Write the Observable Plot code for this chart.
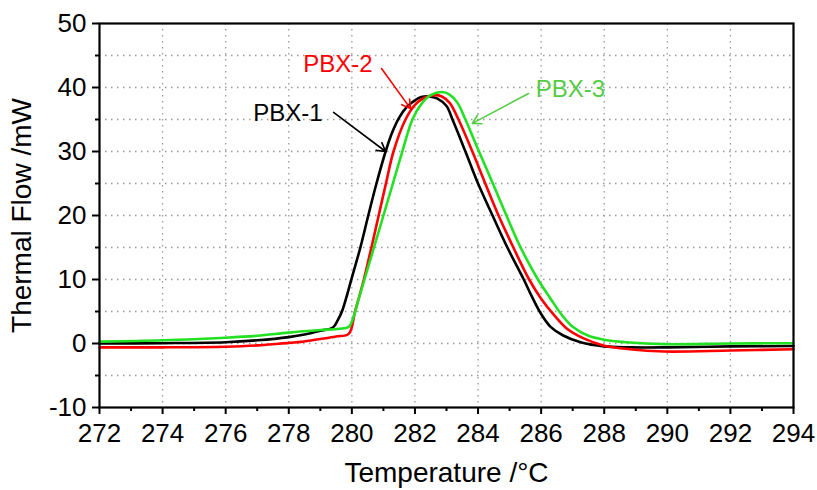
<!DOCTYPE html>
<html><head><meta charset="utf-8">
<script src="https://cdn.jsdelivr.net/npm/d3@7"></script>
<script src="https://cdn.jsdelivr.net/npm/@observablehq/plot@0.6"></script>
<style>body{margin:0;background:#fff}</style>
</head><body><div id="chart"></div>
<script>
const seriesNames = ["PBX-1", "PBX-2", "PBX-3"];
const lineColors = ["#000000", "#ff0000", "#22e022"];
const labelColors = ["#000000", "#ff0000", "#55cc44"];

const t1 = [272, 274, 276, 277, 278, 278.5, 279.0, 279.4, 279.55, 279.7, 279.86, 280.0, 280.27, 280.52, 280.78, 281.07, 281.28, 281.5, 281.75, 282.0, 282.2, 282.45, 282.7, 283.0, 283.19, 283.6, 284.0, 284.46, 284.93, 285.45, 285.7, 286.0, 286.3, 286.7, 287.25, 288.0, 288.8, 290, 292, 294];
const v1 = [0, 0.05, 0.2, 0.5, 1.0, 1.4, 2.0, 2.5, 3.6, 5.2, 7.8, 10.3, 15, 20, 25, 30, 33, 35.3, 37.0, 38.0, 38.5, 38.6, 38.3, 37.1, 35, 30, 25, 20, 15, 10, 7.4, 4.6, 2.6, 1.25, 0.2, -0.45, -0.6, -0.6, -0.45, -0.4];

const t2 = [272, 274, 276, 277, 278, 278.4, 279.0, 279.5, 279.9, 280.1, 280.38, 280.62, 280.85, 281.08, 281.32, 281.7, 282.0, 282.3, 282.6, 282.85, 283.1, 283.38, 283.82, 284.23, 284.65, 285.12, 285.62, 286.0, 286.4, 286.8, 287.35, 287.97, 288.8, 289.9, 292, 294];
const v2 = [-0.6, -0.6, -0.5, -0.3, 0.1, 0.25, 0.7, 1.1, 1.5, 5, 10, 15, 20, 25, 30, 35, 37.3, 38.4, 38.8, 38.6, 37.6, 35, 30, 25, 20, 15, 10, 7.0, 4.5, 2.4, 0.8, -0.3, -0.9, -1.25, -1.1, -0.9];

const t3 = [272, 274, 276, 277, 278, 279, 279.6, 279.9, 280.05, 280.2, 280.4, 280.7, 281.0, 281.3, 281.6, 281.92, 282.2, 282.5, 282.85, 283.1, 283.35, 283.6, 284.03, 284.47, 284.9, 285.35, 285.9, 286.3, 286.65, 287.0, 287.5, 288.0, 288.8, 289.9, 292, 294];
const v3 = [0.3, 0.5, 0.9, 1.2, 1.7, 2.1, 2.3, 2.6, 4.1, 6.7, 10, 15, 20, 25, 30, 35, 37.4, 38.8, 39.3, 38.9, 37.6, 35, 30, 25, 20, 15, 10, 7.0, 4.5, 2.6, 1.2, 0.6, 0.16, -0.1, 0, 0.05];

const xMajor = [272, 274, 276, 278, 280, 282, 284, 286, 288, 290, 292, 294];
const xMinor = [273, 275, 277, 279, 281, 283, 285, 287, 289, 291, 293];
const yMajor = [-10, 0, 10, 20, 30, 40, 50];
const yMinor = [-5, 5, 15, 25, 35, 45];
const xTitle = "Temperature /°C";
const yTitle = "Thermal Flow /mW";

// annotation positions in data units
const labelX = [277.97, 279.56, 286.93];
const labelY = [35.9, 43.6, 39.7];
const arrowX1 = [279.42, 280.94, 285.6];
const arrowY1 = [36.1, 42.97, 39.06];
const arrowX2 = [281.07, 281.86, 283.82];
const arrowY2 = [30.0, 36.7, 34.4];

const tArr = [t1, t2, t3], vArr = [v1, v2, v3];
const data = [];
seriesNames.forEach((s, i) => tArr[i].forEach((t, j) => data.push({series: s, t, v: vArr[i][j]})));

const gridStyle = {stroke: "#999", strokeOpacity: 1, strokeDasharray: "1.5,4.5", strokeWidth: 1.3};

const annotMarks = [];
seriesNames.forEach((s, i) => {
  annotMarks.push(Plot.arrow([0], {x1: () => arrowX1[i], y1: () => arrowY1[i], x2: () => arrowX2[i], y2: () => arrowY2[i], stroke: labelColors[i], strokeWidth: 1.6, headLength: 9, bend: 0}));
  annotMarks.push(Plot.text([s], {x: () => labelX[i], y: () => labelY[i], text: d => d, fill: labelColors[i], fontSize: 24}));
});

const chart = Plot.plot({
  width: 817, height: 490,
  marginLeft: 99, marginRight: 24, marginTop: 23, marginBottom: 83,
  x: {domain: [272, 294], label: null},
  y: {domain: [-10, 50], label: null},
  color: {domain: seriesNames, range: lineColors},
  style: {fontFamily: "'Liberation Sans', Arial, sans-serif", background: "white", color: "black"},
  marks: [
    Plot.gridX(xMajor.slice(1, -1), gridStyle),
    Plot.gridY([...yMajor.slice(1, -1), ...yMinor], gridStyle),
    Plot.line(data, {x: "t", y: "v", z: "series", stroke: "series", strokeWidth: 2.6, curve: "catmull-rom"}),
    ...annotMarks,
    Plot.axisX({ticks: xMajor, tickSize: 7, tickPadding: 9, fontSize: 26, strokeWidth: 2, label: null, tickFormat: d => String(d)}),
    Plot.axisX({ticks: xMinor, tickSize: 4, strokeWidth: 2, label: null, tickFormat: () => ""}),
    Plot.axisY({ticks: yMajor, tickSize: 7, tickPadding: 6, fontSize: 26, strokeWidth: 2, label: null, tickFormat: d => String(d)}),
    Plot.axisY({ticks: yMinor, tickSize: 4, strokeWidth: 2, label: null, tickFormat: () => ""}),
    Plot.frame({stroke: "black", strokeWidth: 2.2}),
    Plot.text([xTitle], {frameAnchor: "bottom", dy: 66, text: d => d, fontSize: 28, lineAnchor: "middle", textAnchor: "middle"}),
    Plot.text([yTitle], {frameAnchor: "left", dx: -77, rotate: -90, text: d => d, fontSize: 28, lineAnchor: "middle", textAnchor: "middle"})
  ]
});
document.getElementById("chart").appendChild(chart);
</script>
</body></html>
